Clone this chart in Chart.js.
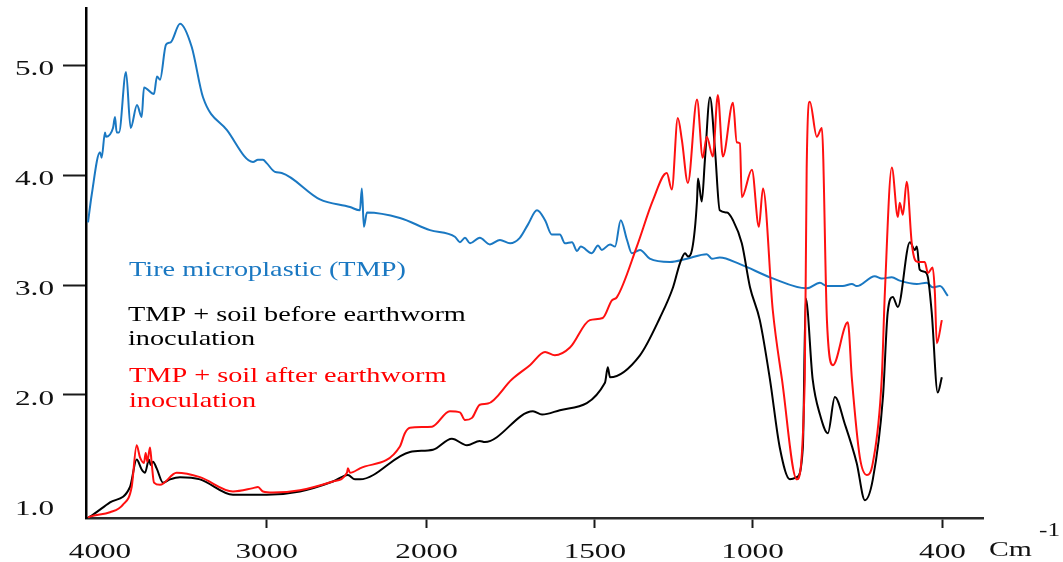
<!DOCTYPE html>
<html>
<head>
<meta charset="utf-8">
<script src="https://cdn.jsdelivr.net/npm/chart.js@4/dist/chart.umd.min.js"></script>
<style>
  body { margin: 0; background: #fff; }
  #wrap { width: 1063px; height: 562px; position: relative; }
</style>
</head>
<body>
<div id="wrap"><canvas id="ftir"></canvas></div>
<script>
// tick labels
const X_TICKS = [4000, 3000, 2000, 1500, 1000, 400];
const Y_TICKS = [1, 2, 3, 4, 5];

// Tire microplastic (TMP)
const tmpWn  = [4072, 4050, 4000, 3990, 3970, 3964, 3922, 3910, 3900, 3886, 3844, 3816, 3778, 3750, 3736, 3676, 3658, 3640, 3604, 3576, 3520, 3450, 3382, 3238, 3082, 3052, 3022, 3000, 2948, 2906, 2667, 2479, 2417, 2405, 2392, 2373, 2167, 1990, 1916, 1901, 1886, 1871, 1842, 1812, 1782, 1752, 1723, 1699, 1672, 1648, 1628, 1604, 1589, 1568, 1553, 1542, 1509, 1490, 1478, 1452, 1436, 1418, 1398, 1383, 1357, 1326, 1262, 1208, 1145, 1129, 1104, 1040, 936, 829, 787, 765, 715, 686, 671, 614, 592, 560, 535, 481, 450, 431, 408, 383];
const tmpAbs = [3.57, 3.82, 4.21, 4.16, 4.39, 4.35, 4.43, 4.53, 4.39, 4.39, 4.94, 4.43, 4.64, 4.53, 4.80, 4.74, 4.90, 4.87, 5.19, 5.21, 5.38, 5.17, 4.71, 4.41, 4.12, 4.14, 4.14, 4.11, 4.03, 4.02, 3.78, 3.71, 3.68, 3.88, 3.53, 3.66, 3.61, 3.50, 3.44, 3.39, 3.43, 3.38, 3.43, 3.37, 3.41, 3.38, 3.43, 3.55, 3.68, 3.59, 3.46, 3.46, 3.38, 3.39, 3.31, 3.35, 3.29, 3.36, 3.32, 3.37, 3.35, 3.59, 3.41, 3.29, 3.32, 3.24, 3.21, 3.24, 3.28, 3.24, 3.25, 3.19, 3.06, 2.97, 3.02, 2.99, 2.99, 3.01, 2.99, 3.08, 3.06, 3.07, 3.04, 3.01, 3.02, 2.98, 2.99, 2.90];

// TMP + soil before earthworm inoculation
const beforeWn  = [4072, 4060, 3940, 3820, 3780, 3750, 3730, 3706, 3696, 3682, 3660, 3622, 3580, 3520, 3400, 3202, 3000, 2792, 2586, 2492, 2448, 2417, 2104, 1981, 1925, 1880, 1842, 1827, 1684, 1657, 1604, 1468, 1459, 1452, 1357, 1294, 1252, 1230, 1214, 1205, 1192, 1176, 1173, 1161, 1151, 1135, 1119, 1104, 1081, 1062, 1034, 1008, 977, 945, 914, 882, 860, 841, 832, 810, 787, 762, 740, 708, 671, 645, 620, 588, 573, 557, 541, 503, 487, 481, 472, 456, 446, 434, 415, 402];
const beforeAbs = [0.88, 0.89, 1.02, 1.16, 1.41, 1.32, 1.29, 1.41, 1.36, 1.39, 1.33, 1.20, 1.23, 1.25, 1.23, 1.09, 1.09, 1.12, 1.21, 1.27, 1.23, 1.23, 1.48, 1.50, 1.60, 1.54, 1.58, 1.57, 1.85, 1.82, 1.86, 2.11, 2.25, 2.16, 2.36, 2.70, 2.98, 3.20, 3.29, 3.26, 3.32, 3.77, 3.97, 3.76, 4.14, 4.71, 4.23, 3.68, 3.66, 3.59, 3.38, 2.98, 2.68, 2.14, 1.52, 1.23, 1.25, 1.52, 2.88, 2.14, 1.82, 1.65, 1.98, 1.73, 1.38, 1.04, 1.23, 1.98, 2.75, 2.89, 2.80, 3.39, 3.32, 3.35, 3.14, 3.12, 3.07, 2.75, 2.02, 2.16];

// TMP + soil after earthworm inoculation
const afterWn  = [4072, 4060, 3940, 3862, 3810, 3780, 3760, 3736, 3726, 3716, 3700, 3690, 3676, 3640, 3540, 3400, 3202, 3082, 3052, 3022, 2961, 2792, 2586, 2498, 2492, 2479, 2417, 2167, 2136, 2104, 1984, 1931, 1901, 1886, 1865, 1842, 1818, 1747, 1693, 1648, 1619, 1574, 1515, 1475, 1446, 1430, 1367, 1316, 1272, 1256, 1237, 1224, 1205, 1176, 1158, 1145, 1126, 1110, 1094, 1062, 1050, 1040, 1034, 1002, 980, 967, 936, 907, 860, 835, 829, 819, 797, 781, 765, 746, 699, 686, 661, 639, 620, 592, 582, 560, 541, 535, 525, 513, 497, 487, 478, 456, 446, 431, 424, 418, 402];
const afterAbs = [0.88, 0.89, 0.93, 1.00, 1.16, 1.54, 1.43, 1.38, 1.47, 1.39, 1.52, 1.38, 1.20, 1.18, 1.29, 1.25, 1.12, 1.15, 1.16, 1.12, 1.11, 1.13, 1.21, 1.29, 1.33, 1.29, 1.33, 1.53, 1.65, 1.70, 1.71, 1.85, 1.84, 1.77, 1.79, 1.91, 1.92, 2.14, 2.27, 2.39, 2.36, 2.43, 2.68, 2.70, 2.86, 2.89, 3.35, 3.77, 4.02, 3.87, 4.52, 4.32, 3.93, 4.69, 4.16, 4.35, 4.17, 4.73, 4.17, 4.66, 4.30, 4.29, 3.80, 4.05, 3.53, 3.88, 2.77, 2.14, 1.23, 2.14, 4.05, 4.67, 4.35, 4.43, 2.68, 2.27, 2.66, 2.14, 1.43, 1.27, 1.38, 2.14, 2.93, 4.07, 3.62, 3.75, 3.64, 3.94, 3.38, 3.23, 3.21, 3.21, 3.11, 3.16, 2.93, 2.47, 2.68];

// the wavenumber axis is not linear: each tick interval has its own length
const AXIS_POS = [100, 266.7, 426.7, 595, 752.7, 942.7];
const X_MIN_WN = 4084, X_MAX_WN = 272;
const Y_MIN = 0.878, Y_MAX = 5.523;

function wnPos(wn) {
  let n = X_TICKS.length;
  for (let i = 0; i < n - 1; i++) {
    if (wn >= X_TICKS[i + 1] || i == n - 2) {
      let t = (X_TICKS[i] - wn) / (X_TICKS[i] - X_TICKS[i + 1]);
      return AXIS_POS[i] + t * (AXIS_POS[i + 1] - AXIS_POS[i]);
    }
  }
}

function toPoints(wn, abs) {
  return wn.map((w, i) => ({ x: wnPos(w), y: abs[i] }));
}

// horizontally stretched serif text, like the original figure
function stretchText(ctx, text, x, y, sx, align) {
  ctx.save();
  ctx.translate(x, y);
  ctx.scale(sx, 1);
  ctx.textAlign = align;
  ctx.textBaseline = 'alphabetic';
  ctx.fillText(text, 0, 0);
  ctx.restore();
}

const textPlugin = {
  id: 'textPlugin',
  afterDraw(chart) {
    const ctx = chart.ctx;
    const xs = chart.scales.x, ys = chart.scales.y;
    ctx.save();
    ctx.fillStyle = '#111';
    ctx.font = '22px "Liberation Serif"';
    Y_TICKS.forEach(v => {
      stretchText(ctx, v.toFixed(1), ys.right - 32, ys.getPixelForValue(v) + 10, 1.42, 'right');
    });
    X_TICKS.forEach(w => {
      stretchText(ctx, String(w), xs.getPixelForValue(wnPos(w)), xs.top + 40, 1.42, 'center');
    });
    stretchText(ctx, 'Cm', 989, 556, 1.35, 'left');
    ctx.font = '18px "Liberation Serif"';
    stretchText(ctx, '-1', 1039, 536, 1.4, 'left');

    // legend texts
    ctx.font = '22px "Liberation Serif"';
    ctx.fillStyle = '#1a78c2';
    stretchText(ctx, 'Tire microplastic (TMP)', 129, 276, 1.285, 'left');
    ctx.fillStyle = '#000';
    stretchText(ctx, 'TMP + soil before earthworm', 128, 321, 1.285, 'left');
    stretchText(ctx, 'inoculation', 128, 345, 1.285, 'left');
    ctx.fillStyle = '#ff0000';
    stretchText(ctx, 'TMP + soil after earthworm', 129, 382, 1.285, 'left');
    stretchText(ctx, 'inoculation', 129, 407, 1.285, 'left');
    ctx.restore();
  }
};

function hideTick(hidden) {
  return c => (c.tick && Math.abs(c.tick.value - hidden) < 0.01) ? 'rgba(0,0,0,0)' : '#1a1a1a';
}

const lineStyle = { pointRadius: 0, borderWidth: 2, cubicInterpolationMode: 'monotone', fill: false };

new Chart(document.getElementById('ftir'), {
  type: 'line',
  data: {
    datasets: [
      { label: 'TMP + soil after earthworm inoculation', data: toPoints(afterWn, afterAbs), borderColor: '#ff1010', ...lineStyle },
      { label: 'TMP + soil before earthworm inoculation', data: toPoints(beforeWn, beforeAbs), borderColor: '#000000', ...lineStyle },
      { label: 'Tire microplastic (TMP)', data: toPoints(tmpWn, tmpAbs), borderColor: '#1a78c2', ...lineStyle }
    ]
  },
  options: {
    responsive: true,
    maintainAspectRatio: false,
    animation: false,
    layout: { padding: { top: 8, right: 80, left: 0, bottom: 0 } },
    plugins: { legend: { display: false }, tooltip: { enabled: false } },
    scales: {
      x: {
        type: 'linear',
        min: wnPos(X_MIN_WN),
        max: wnPos(X_MAX_WN),
        afterBuildTicks: s => { s.ticks = X_TICKS.map(w => ({ value: wnPos(w) })); },
        afterFit: s => { s.height = 44; },
        ticks: { display: false },
        grid: { drawOnChartArea: false, drawTicks: true, tickLength: 10, tickWidth: 2, tickColor: hideTick(wnPos(4000)) },
        border: { display: true, color: '#2a2a2a', width: 2.5 }
      },
      y: {
        min: Y_MIN,
        max: Y_MAX,
        afterBuildTicks: s => { s.ticks = Y_TICKS.map(v => ({ value: v })); },
        afterFit: s => { s.width = 86; },
        ticks: { display: false },
        grid: { drawOnChartArea: false, drawTicks: true, tickLength: 23, tickWidth: 2, tickColor: hideTick(1) },
        border: { display: true, color: '#000', width: 2.5 }
      }
    }
  },
  plugins: [textPlugin]
});
</script>
</body>
</html>
